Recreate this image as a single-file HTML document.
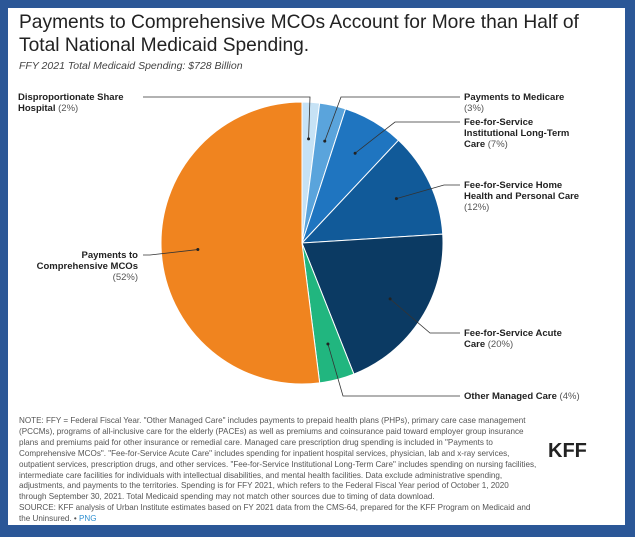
<!DOCTYPE html>
<html><head><meta charset="utf-8"><style>
body{margin:0;width:635px;height:537px;background:#2b5797;position:relative;overflow:hidden;font-family:"Liberation Sans",Arial,sans-serif}
#card{position:absolute;left:8px;top:8px;width:617px;height:517px;background:#fff}
h1{position:absolute;left:11px;top:3px;margin:0;font-weight:normal;font-size:19.2px;line-height:23px;color:#222}
.sub{position:absolute;left:11px;top:52px;font-style:italic;font-size:10.5px;color:#444}
.note{position:absolute;left:11px;top:408px;white-space:nowrap;font-size:8.1px;line-height:10.9px;color:#555}
.kff{position:absolute;left:540px;top:432px;font-weight:bold;font-size:20px;color:#222}
svg text{font-family:"Liberation Sans",Arial,sans-serif;font-size:9.5px}
</style></head><body>
<div id="card">
<h1>Payments to Comprehensive MCOs Account for More than Half of<br>Total National Medicaid Spending.</h1>
<div class="sub">FFY 2021 Total Medicaid Spending: $728 Billion</div>
<div class="note">NOTE: FFY = Federal Fiscal Year. "Other Managed Care" includes payments to prepaid health plans (PHPs), primary care case management<br>(PCCMs), programs of all-inclusive care for the elderly (PACEs) as well as premiums and coinsurance paid toward employer group insurance<br>plans and premiums paid for other insurance or remedial care. Managed care prescription drug spending is included in "Payments to<br>Comprehensive MCOs". "Fee-for-Service Acute Care" includes spending for inpatient hospital services, physician, lab and x-ray services,<br>outpatient services, prescription drugs, and other services. "Fee-for-Service Institutional Long-Term Care" includes spending on nursing facilities,<br>intermediate care facilities for individuals with intellectual disabilities, and mental health facilities. Data exclude administrative spending,<br>adjustments, and payments to the territories. Spending is for FFY 2021, which refers to the Federal Fiscal Year period of October 1, 2020<br>through September 30, 2021. Total Medicaid spending may not match other sources due to timing of data download.<br>SOURCE: KFF analysis of Urban Institute estimates based on FY 2021 data from the CMS-64, prepared for the KFF Program on Medicaid and<br>the Uninsured. • <span style="color:#2f8fd0">PNG</span></div>
<div class="kff">KFF</div>
</div>
<svg id="pie" width="635" height="537" style="position:absolute;left:0;top:0"></svg>
<script>
const categories=["Disproportionate Share Hospital","Payments to Medicare","Fee-for-Service Institutional Long-Term Care","Fee-for-Service Home Health and Personal Care","Fee-for-Service Acute Care","Other Managed Care","Payments to Comprehensive MCOs"];
const values=[2,3,7,12,20,4,52];
const labelLines=[["Disproportionate Share","Hospital"],["Payments to Medicare"],["Fee-for-Service","Institutional Long-Term","Care"],["Fee-for-Service Home","Health and Personal Care"],["Fee-for-Service Acute","Care"],["Other Managed Care"],["Payments to","Comprehensive MCOs"]];
const colors=["#c6e2f5","#5aa4dc","#1f75c0","#115a99","#0b3a63","#21b67f","#f0841f"];
// label anchor layout: [elbowX, elbowY, endX, textX, textY, anchor, pctOwnLine]
const layout=[[310,97,143,18,97,"start",false],[341,97,460,464,97,"start",true],[395,122,460,464,122,"start",false],[444,185,460,464,185,"start",true],[430,333,460,464,333,"start",false],[343,396,460,464,396,"start",false],[150,255,143,138,255,"end",true]];
const svg=document.getElementById('pie');const NS="http://www.w3.org/2000/svg";
const cx=302,cy=243,r=141;
const total=values.reduce((a,b)=>a+b,0);
function pt(frac,rad){const a=frac*2*Math.PI;return [cx+rad*Math.sin(a),cy-rad*Math.cos(a)];}
function mk(t,attrs){const e=document.createElementNS(NS,t);for(const k in attrs)e.setAttribute(k,attrs[k]);svg.appendChild(e);return e;}
let acc=0;
values.forEach((v,i)=>{
 const f0=acc/total,f1=(acc+v)/total;acc+=v;
 const p0=pt(f0,r),p1=pt(f1,r);const large=(f1-f0)>0.5?1:0;
 const s=mk('path',{d:`M${cx},${cy}L${p0[0]},${p0[1]}A${r},${r} 0 ${large} 1 ${p1[0]},${p1[1]}Z`,fill:colors[i],stroke:'#fff','stroke-width':1});
 
 
 const d=pt((f0+f1)/2,r*0.74);
 const L=layout[i];
 const ln=mk('polyline',{points:`${d[0]},${d[1]} ${L[0]},${L[1]} ${L[2]},${L[1]}`,fill:'none',stroke:'#333','stroke-width':0.8});
 
 
 mk('circle',{cx:d[0],cy:d[1],r:1.5,fill:'#222'});
 const t=mk('text',{x:L[3],y:L[4]+3,'text-anchor':L[5],fill:'#222'});
 
 
 const lines=labelLines[i];
 lines.forEach((ln2,j)=>{const ts=document.createElementNS(NS,'tspan');ts.setAttribute('x',L[3]);ts.setAttribute('dy',j?11:0);ts.setAttribute('font-weight','bold');ts.textContent=ln2;t.appendChild(ts);});
 const pc=document.createElementNS(NS,'tspan');pc.setAttribute('fill','#555');pc.textContent=(L[6]?'':' ')+'('+v+'%)';
 if(L[6]){pc.setAttribute('x',L[3]);pc.setAttribute('dy',11);}
 t.appendChild(pc);
});
</script>
</body></html>
